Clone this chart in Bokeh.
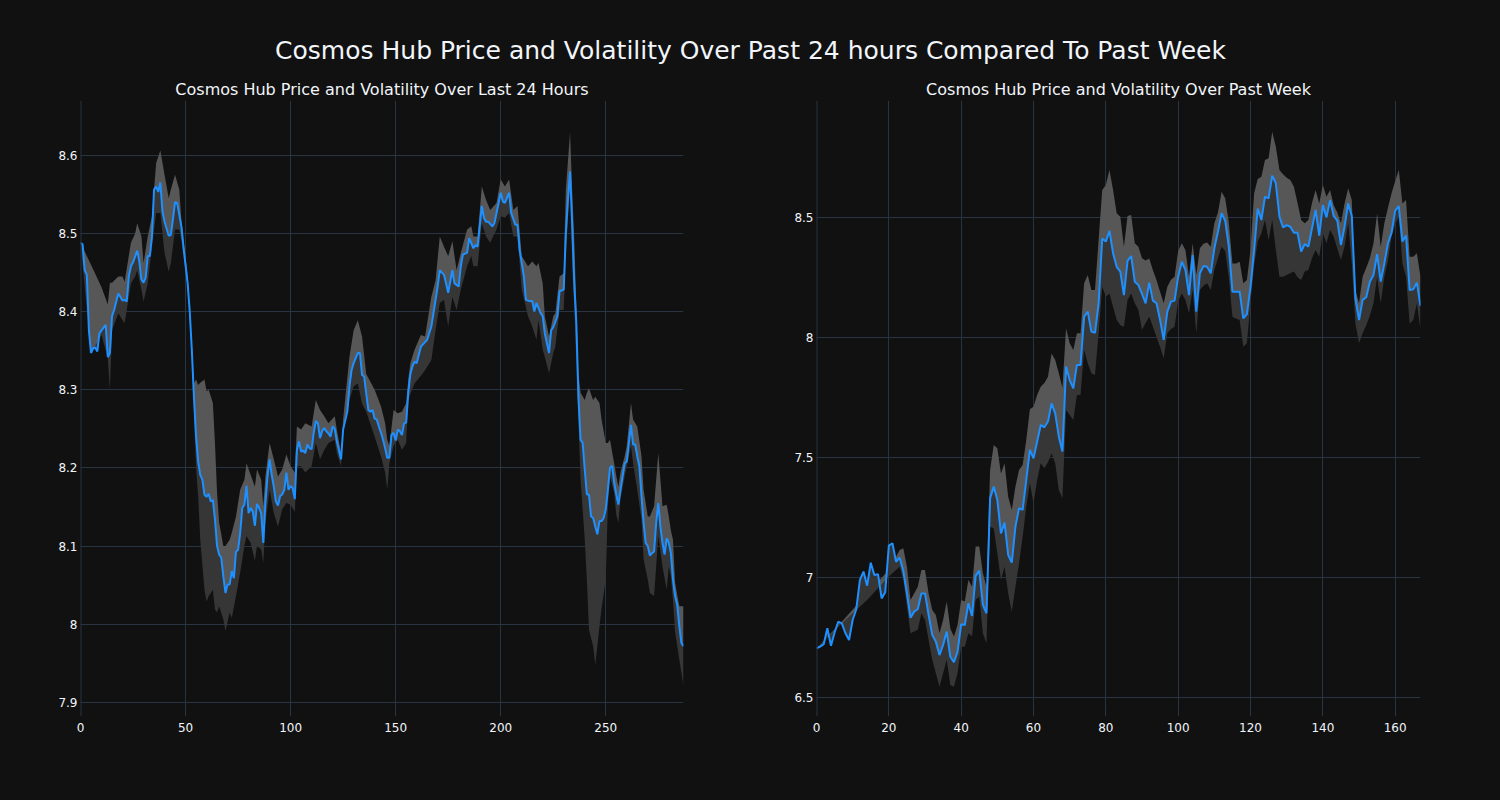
from bokeh.plotting import figure
from bokeh.layouts import column, row
from bokeh.models import Range1d, FixedTicker, Span
from bokeh.core.properties import value
from bokeh.embed import file_html
from bokeh.resources import INLINE

MAIN_TITLE = "Cosmos Hub Price and Volatility Over Past 24 hours Compared To Past Week"
DAY_TITLE = "Cosmos Hub Price and Volatility Over Last 24 Hours"
WEEK_TITLE = "Cosmos Hub Price and Volatility Over Past Week"

# ---------------- last 24 hours (5-minute steps) ----------------
day_x = ([0, 1, 2, 3, 4, 5, 6, 7, 8, 9,
          10, 12, 13, 14, 15, 16, 18, 19, 20, 21,
          22, 23, 24, 25, 27, 28, 29, 30, 31, 32,
          33, 34, 35, 36, 37, 38, 39, 40, 42, 43,
          44, 45, 46, 48, 49, 51, 52, 53, 54, 55]
         + list(range(56, 123))
         + [124, 125, 127, 128, 129, 130, 132, 133, 134, 135]
         + list(range(136, 161))
         + [162, 163, 165, 167, 168, 170, 171, 173, 174, 175,
            177, 178, 180, 181, 182, 184, 185, 187, 188, 189,
            191, 192, 193, 194, 196, 197, 198, 200, 201, 202,
            204, 205, 207, 208, 209, 211, 212, 214, 215, 216,
            217, 219, 220, 221, 223, 224, 225, 227, 228, 230]
         + list(range(231, 288)))

day_price = [
    8.488, 8.486, 8.453, 8.447, 8.376, 8.347, 8.353, 8.354, 8.349, 8.372,
    8.376, 8.383, 8.342, 8.347, 8.394, 8.402, 8.423, 8.419, 8.414, 8.415,
    8.413, 8.445, 8.458, 8.463, 8.478, 8.464, 8.441, 8.437, 8.443, 8.471,
    8.471, 8.496, 8.556, 8.560, 8.553, 8.565, 8.528, 8.515, 8.497, 8.498,
    8.518, 8.540, 8.539, 8.509, 8.483, 8.436, 8.400, 8.350, 8.290, 8.240,
    # 56..122
    8.208, 8.191, 8.185, 8.166, 8.163, 8.167, 8.157, 8.159, 8.134, 8.100,
    8.089, 8.085, 8.061, 8.040, 8.051, 8.051, 8.068, 8.059, 8.093, 8.095,
    8.117, 8.149, 8.153, 8.177, 8.142, 8.149, 8.144, 8.126, 8.154, 8.149,
    8.142, 8.104, 8.155, 8.189, 8.211, 8.191, 8.176, 8.157, 8.152, 8.164,
    8.166, 8.172, 8.194, 8.172, 8.177, 8.174, 8.160, 8.223, 8.234, 8.221,
    8.222, 8.219, 8.230, 8.225, 8.224, 8.245, 8.260, 8.257, 8.238, 8.247,
    8.251, 8.247, 8.244, 8.240, 8.253, 8.250, 8.234,
    # 124..135
    8.211, 8.249, 8.272, 8.304, 8.325, 8.334, 8.347, 8.347, 8.319, 8.317,
    # 136..160
    8.295, 8.274, 8.272, 8.274, 8.263, 8.262, 8.253, 8.245, 8.236, 8.225,
    8.213, 8.213, 8.242, 8.245, 8.235, 8.249, 8.247, 8.242, 8.257, 8.258,
    8.296, 8.320, 8.330, 8.336, 8.334,
    # 162..230
    8.355, 8.358, 8.364, 8.381, 8.398, 8.432, 8.453, 8.447, 8.436, 8.424,
    8.453, 8.436, 8.432, 8.458, 8.473, 8.475, 8.494, 8.481, 8.485, 8.483,
    8.535, 8.520, 8.515, 8.515, 8.509, 8.513, 8.526, 8.552, 8.541, 8.539,
    8.552, 8.526, 8.511, 8.511, 8.479, 8.445, 8.415, 8.413, 8.414, 8.400,
    8.411, 8.398, 8.394, 8.372, 8.347, 8.376, 8.380, 8.394, 8.426, 8.428,
    # 231..287
    8.500, 8.543, 8.579, 8.513, 8.436, 8.385, 8.290, 8.236, 8.232, 8.198,
    8.166, 8.166, 8.138, 8.136, 8.125, 8.115, 8.132, 8.132, 8.136, 8.147,
    8.172, 8.200, 8.203, 8.181, 8.166, 8.153, 8.172, 8.189, 8.206, 8.208,
    8.232, 8.255, 8.230, 8.230, 8.215, 8.202, 8.164, 8.130, 8.104, 8.100,
    8.088, 8.091, 8.093, 8.130, 8.155, 8.125, 8.104, 8.089, 8.110, 8.104,
    8.091, 8.057, 8.036, 8.025, 7.998, 7.976, 7.972,
]

day_band_x = [
    0, 5, 10, 13, 14, 15, 18, 20, 21, 24,
    26, 27, 29, 30, 32, 34, 36, 38, 40, 42,
    43, 45, 47, 48, 51, 53, 54, 55, 56, 57,
    59, 60, 61, 63, 64, 65, 66, 68, 69, 71,
    72, 74, 76, 78, 79, 81, 83, 84, 86, 87,
    88, 90, 92, 94, 96, 98, 100, 102, 103, 105,
    107, 110, 112, 114, 116, 118, 121, 122, 124, 125,
    128, 130, 132, 134, 136, 140, 143, 145, 146, 147,
    149, 151, 153, 155, 156, 157, 159, 162, 164, 167,
    169, 171, 173, 175, 177, 179, 181, 184, 186, 187,
    189, 191, 193, 195, 198, 200, 202, 204, 206, 208,
    210, 213, 215, 217, 218, 220, 221, 223, 225, 226,
    228, 230, 231, 233, 234, 235, 237, 238, 240, 241,
    242, 244, 245, 247, 248, 250, 251, 252, 254, 255,
    256, 257, 259, 260, 262, 263, 265, 267, 268, 270,
    271, 273, 275, 277, 279, 280, 281, 282, 283, 285,
    287,
]
day_upper = [
    8.488, 8.460, 8.431, 8.409, 8.437, 8.437, 8.445, 8.445, 8.438, 8.488,
    8.500, 8.513, 8.496, 8.462, 8.496, 8.522, 8.590, 8.606, 8.575, 8.545,
    8.556, 8.575, 8.556, 8.518, 8.445, 8.360, 8.308, 8.313, 8.306, 8.309,
    8.313, 8.298, 8.300, 8.283, 8.232, 8.168, 8.130, 8.100, 8.100, 8.108,
    8.117, 8.138, 8.172, 8.185, 8.206, 8.191, 8.176, 8.198, 8.185, 8.151,
    8.189, 8.232, 8.211, 8.189, 8.198, 8.217, 8.202, 8.194, 8.253, 8.249,
    8.257, 8.253, 8.287, 8.274, 8.266, 8.257, 8.266, 8.249, 8.219, 8.262,
    8.342, 8.376, 8.389, 8.368, 8.320, 8.300, 8.279, 8.257, 8.236, 8.228,
    8.274, 8.270, 8.272, 8.283, 8.313, 8.334, 8.351, 8.370, 8.368, 8.419,
    8.440, 8.496, 8.483, 8.471, 8.490, 8.453, 8.475, 8.505, 8.509, 8.496,
    8.496, 8.560, 8.543, 8.530, 8.539, 8.569, 8.560, 8.569, 8.530, 8.535,
    8.471, 8.458, 8.464, 8.458, 8.462, 8.436, 8.394, 8.368, 8.394, 8.398,
    8.445, 8.449, 8.556, 8.629, 8.556, 8.492, 8.321, 8.296, 8.287, 8.296,
    8.302, 8.287, 8.291, 8.283, 8.262, 8.232, 8.232, 8.236, 8.206, 8.190,
    8.176, 8.194, 8.215, 8.228, 8.283, 8.262, 8.253, 8.215, 8.172, 8.138,
    8.138, 8.151, 8.219, 8.151, 8.153, 8.138, 8.120, 8.108, 8.053, 8.023,
    8.023,
]
day_lower = [
    8.488, 8.347, 8.370, 8.340, 8.300, 8.376, 8.398, 8.389, 8.385, 8.436,
    8.445, 8.453, 8.428, 8.413, 8.436, 8.483, 8.526, 8.526, 8.475, 8.451,
    8.462, 8.505, 8.505, 8.492, 8.430, 8.340, 8.270, 8.200, 8.164, 8.108,
    8.044, 8.029, 8.036, 8.044, 8.019, 8.015, 8.023, 8.006, 7.991, 8.015,
    8.008, 8.036, 8.066, 8.100, 8.113, 8.104, 8.081, 8.100, 8.096, 8.078,
    8.130, 8.172, 8.142, 8.125, 8.147, 8.155, 8.153, 8.144, 8.202, 8.202,
    8.194, 8.202, 8.232, 8.211, 8.223, 8.232, 8.236, 8.219, 8.202, 8.245,
    8.287, 8.304, 8.308, 8.282, 8.272, 8.240, 8.215, 8.194, 8.172, 8.206,
    8.228, 8.236, 8.223, 8.232, 8.287, 8.295, 8.308, 8.318, 8.325, 8.338,
    8.376, 8.411, 8.415, 8.381, 8.419, 8.402, 8.428, 8.458, 8.471, 8.458,
    8.458, 8.513, 8.496, 8.488, 8.505, 8.522, 8.520, 8.526, 8.496, 8.496,
    8.428, 8.394, 8.381, 8.364, 8.389, 8.351, 8.342, 8.321, 8.347, 8.355,
    8.402, 8.402, 8.471, 8.565, 8.462, 8.406, 8.261, 8.185, 8.108, 8.057,
    7.993, 7.972, 7.948, 7.997, 8.020, 8.057, 8.151, 8.189, 8.168, 8.140,
    8.130, 8.160, 8.189, 8.202, 8.228, 8.206, 8.172, 8.134, 8.083, 8.057,
    8.040, 8.036, 8.113, 8.074, 8.044, 8.074, 8.061, 8.030, 7.990, 7.955,
    7.921,
]
day_xticks = [0, 50, 100, 150, 200, 250]
day_yticks = [7.9, 8.0, 8.1, 8.2, 8.3, 8.4, 8.5, 8.6]
day_ylabels = ["7.9", "8", "8.1", "8.2", "8.3", "8.4", "8.5", "8.6"]

# ---------------- past week (hourly steps) ----------------
week_x = list(range(0, 168))
week_price = [
    6.704, 6.711, 6.721, 6.788, 6.715, 6.770, 6.815, 6.808, 6.767, 6.739,
    6.822, 6.867, 6.989, 7.024, 6.965, 7.061, 7.010, 7.013, 6.912, 6.938,
    7.132, 7.142, 7.065, 7.082, 7.026, 6.933, 6.832, 6.857, 6.867, 6.933,
    6.933, 6.843, 6.760, 6.732, 6.676, 6.718, 6.774, 6.669, 6.646, 6.690,
    6.804, 6.801, 6.892, 6.839, 7.006, 7.028, 6.885, 6.850, 7.329, 7.378,
    7.322, 7.183, 7.228, 7.093, 7.061, 7.211, 7.288, 7.281, 7.406, 7.531,
    7.496, 7.565, 7.635, 7.625, 7.649, 7.725, 7.683, 7.586, 7.524, 7.878,
    7.822, 7.788, 7.885, 7.885, 8.086, 8.107, 8.024, 8.019, 8.142, 8.412,
    8.399, 8.444, 8.350, 8.294, 8.274, 8.176, 8.319, 8.339, 8.232, 8.218,
    8.181, 8.142, 8.228, 8.153, 8.142, 8.072, 7.989, 8.107, 8.149, 8.153,
    8.253, 8.315, 8.281, 8.176, 8.343, 8.107, 8.267, 8.297, 8.294, 8.267,
    8.371, 8.440, 8.517, 8.486, 8.378, 8.190, 8.190, 8.190, 8.079, 8.097,
    8.211, 8.364, 8.537, 8.489, 8.586, 8.579, 8.674, 8.642, 8.503, 8.458,
    8.468, 8.461, 8.436, 8.436, 8.357, 8.389, 8.378, 8.454, 8.531, 8.424,
    8.551, 8.500, 8.572, 8.506, 8.486, 8.385, 8.461, 8.558, 8.506, 8.163,
    8.072, 8.156, 8.167, 8.232, 8.260, 8.347, 8.232, 8.308, 8.392, 8.436,
    8.528, 8.547, 8.399, 8.424, 8.197, 8.200, 8.228, 8.131,
]
week_band_x = [7, 14, 20] + list(range(23, 168))
week_upper = [
    6.815, 6.933, 7.031,
    7.114, 7.121, 7.044, 6.906, 6.933, 6.961, 7.031, 7.031, 6.933, 6.864,
    6.843, 6.767, 6.822, 6.899, 6.787, 6.753, 6.801, 6.906, 6.899, 6.989,
    6.961, 7.128, 7.128, 7.017, 6.961, 7.447, 7.551, 7.538, 7.433, 7.475,
    7.336, 7.281, 7.378, 7.447, 7.468, 7.572, 7.700, 7.711, 7.760, 7.794,
    7.810, 7.836, 7.933, 7.906, 7.850, 7.790, 8.038, 7.975, 7.947, 8.017,
    8.017, 8.225, 8.260, 8.197, 8.197, 8.406, 8.614, 8.635, 8.697, 8.614,
    8.517, 8.503, 8.378, 8.506, 8.510, 8.392, 8.378, 8.330, 8.320, 8.329,
    8.281, 8.239, 8.190, 8.142, 8.211, 8.240, 8.253, 8.360, 8.392, 8.364,
    8.253, 8.392, 8.260, 8.371, 8.390, 8.395, 8.378, 8.475, 8.520, 8.607,
    8.580, 8.480, 8.308, 8.308, 8.315, 8.225, 8.239, 8.364, 8.600, 8.660,
    8.669, 8.739, 8.746, 8.857, 8.794, 8.697, 8.680, 8.665, 8.656, 8.628,
    8.560, 8.489, 8.475, 8.489, 8.560, 8.614, 8.558, 8.635, 8.586, 8.614,
    8.551, 8.520, 8.475, 8.558, 8.621, 8.572, 8.197, 8.142, 8.253, 8.290,
    8.330, 8.392, 8.517, 8.378, 8.475, 8.540, 8.600, 8.650, 8.697, 8.558,
    8.572, 8.336, 8.336, 8.350, 8.253,
]
week_lower = [
    6.808, 6.906, 7.003,
    7.044, 6.989, 6.878, 6.767, 6.774, 6.781, 6.850, 6.822, 6.739, 6.656,
    6.600, 6.544, 6.600, 6.656, 6.551, 6.544, 6.600, 6.711, 6.711, 6.767,
    6.753, 6.906, 6.919, 6.767, 6.725, 7.211, 7.204, 7.100, 6.989, 7.044,
    6.933, 6.857, 6.961, 7.058, 7.169, 7.294, 7.392, 7.308, 7.406, 7.475,
    7.454, 7.480, 7.517, 7.475, 7.364, 7.329, 7.697, 7.676, 7.656, 7.760,
    7.760, 7.947, 7.892, 7.850, 7.843, 8.017, 8.211, 8.169, 8.183, 8.128,
    8.072, 8.050, 8.044, 8.156, 8.183, 8.142, 8.114, 8.031, 8.060, 8.086,
    8.044, 8.003, 7.960, 7.912, 8.017, 8.035, 8.044, 8.150, 8.183, 8.156,
    8.100, 8.197, 8.017, 8.197, 8.215, 8.225, 8.197, 8.281, 8.330, 8.378,
    8.360, 8.250, 8.086, 8.079, 8.072, 7.961, 7.975, 8.142, 8.300, 8.400,
    8.433, 8.489, 8.406, 8.489, 8.364, 8.253, 8.253, 8.260, 8.267, 8.274,
    8.250, 8.239, 8.274, 8.281, 8.330, 8.364, 8.336, 8.433, 8.392, 8.447,
    8.419, 8.370, 8.322, 8.378, 8.475, 8.308, 8.058, 7.975, 8.017, 8.050,
    8.090, 8.142, 8.253, 8.142, 8.253, 8.320, 8.420, 8.470, 8.503, 8.308,
    8.253, 8.058, 8.072, 8.142, 8.031,
]
week_xticks = [0, 20, 40, 60, 80, 100, 120, 140, 160]
week_yticks = [6.5, 7.0, 7.5, 8.0, 8.5]
week_ylabels = ["6.5", "7", "7.5", "8", "8.5"]

assert len(day_x) == len(day_price)
assert len(day_band_x) == len(day_upper) == len(day_lower)
assert len(week_x) == len(week_price)
assert len(week_band_x) == len(week_upper) == len(week_lower)

BG = "#111111"
GRID = "#283442"
TXT = "#f2f5fa"
FONT = "DejaVu Sans"
LINE = "#1E90FF"
FILL_UP = "#575757"
FILL_DN = "#363636"


def make_panel(title, xs, ys, bx, bu, bl, xr, yr, xticks, yticks, ylabels,
               fw, bleft, bright):
    p = figure(frame_width=fw, frame_height=616,
               min_border_left=bleft, min_border_right=bright,
               min_border_top=30, min_border_bottom=76,
               x_range=Range1d(*xr), y_range=Range1d(*yr),
               output_backend="svg", toolbar_location=None,
               background_fill_color=BG, border_fill_color=BG)
    p.outline_line_color = None
    p.title.text = title
    p.title.align = "center"
    p.title.text_font = FONT
    p.title.text_font_size = "16px"
    p.title.text_font_style = "normal"
    p.title.text_color = TXT
    p.title.standoff = 4

    p.xaxis.ticker = FixedTicker(ticks=xticks)
    p.yaxis.ticker = FixedTicker(ticks=yticks)
    p.yaxis.major_label_overrides = {t: l for t, l in zip(yticks, ylabels)}
    for ax in (p.xaxis, p.yaxis):
        ax.axis_line_color = None
        ax.major_tick_line_color = None
        ax.minor_tick_line_color = None
        ax.major_tick_out = 0
        ax.major_tick_in = 0
        ax.major_label_text_color = TXT
        ax.major_label_text_font = FONT
        ax.major_label_text_font_size = "12px"
    p.xaxis.major_label_standoff = 6
    p.yaxis.major_label_standoff = 3
    p.grid.grid_line_color = GRID
    p.grid.grid_line_width = 1
    p.xgrid.ticker = FixedTicker(ticks=xticks)
    p.ygrid.ticker = FixedTicker(ticks=yticks)
    p.add_layout(Span(location=0, dimension="height", line_color=GRID, line_width=2))

    # band above the price (upper edge -> price) and below (price -> lower edge)
    p.patch(list(bx) + list(xs)[::-1], list(bu) + list(ys)[::-1],
            fill_color=FILL_UP, line_color=None)
    p.patch(list(xs) + list(bx)[::-1], list(ys) + list(bl)[::-1],
            fill_color=FILL_DN, line_color=None)
    p.line(xs, ys, line_color=LINE, line_width=2)
    return p


p_day = make_panel(DAY_TITLE, day_x, day_price, day_band_x, day_upper, day_lower,
                   (0, 287), (7.882, 8.670), day_xticks, day_yticks, day_ylabels,
                   603, 72, 50)
p_week = make_panel(WEEK_TITLE, week_x, week_price, week_band_x, week_upper, week_lower,
                    (0, 167), (6.42, 8.987), week_xticks, week_yticks, week_ylabels,
                    604, 83, 72)

t = figure(width=1484, height=62, x_range=Range1d(0, 1484), y_range=Range1d(0, 62),
           x_axis_type=None, y_axis_type=None, min_border=0,
           output_backend="svg", toolbar_location=None,
           background_fill_color=BG, border_fill_color=BG)
t.outline_line_color = None
t.grid.visible = False
t.text(x=[742], y=[20], text=[MAIN_TITLE], text_align="center", text_baseline="middle",
       text_font=value(FONT), text_font_size="25px", text_color=TXT)

layout = column(t, row(p_day, p_week))

html = file_html(layout, INLINE)
html = html.replace("</head>",
                    "<style>html,body{background-color:#111111;}body{margin:8px;}</style></head>", 1)
open("out.html", "w").write(html)
